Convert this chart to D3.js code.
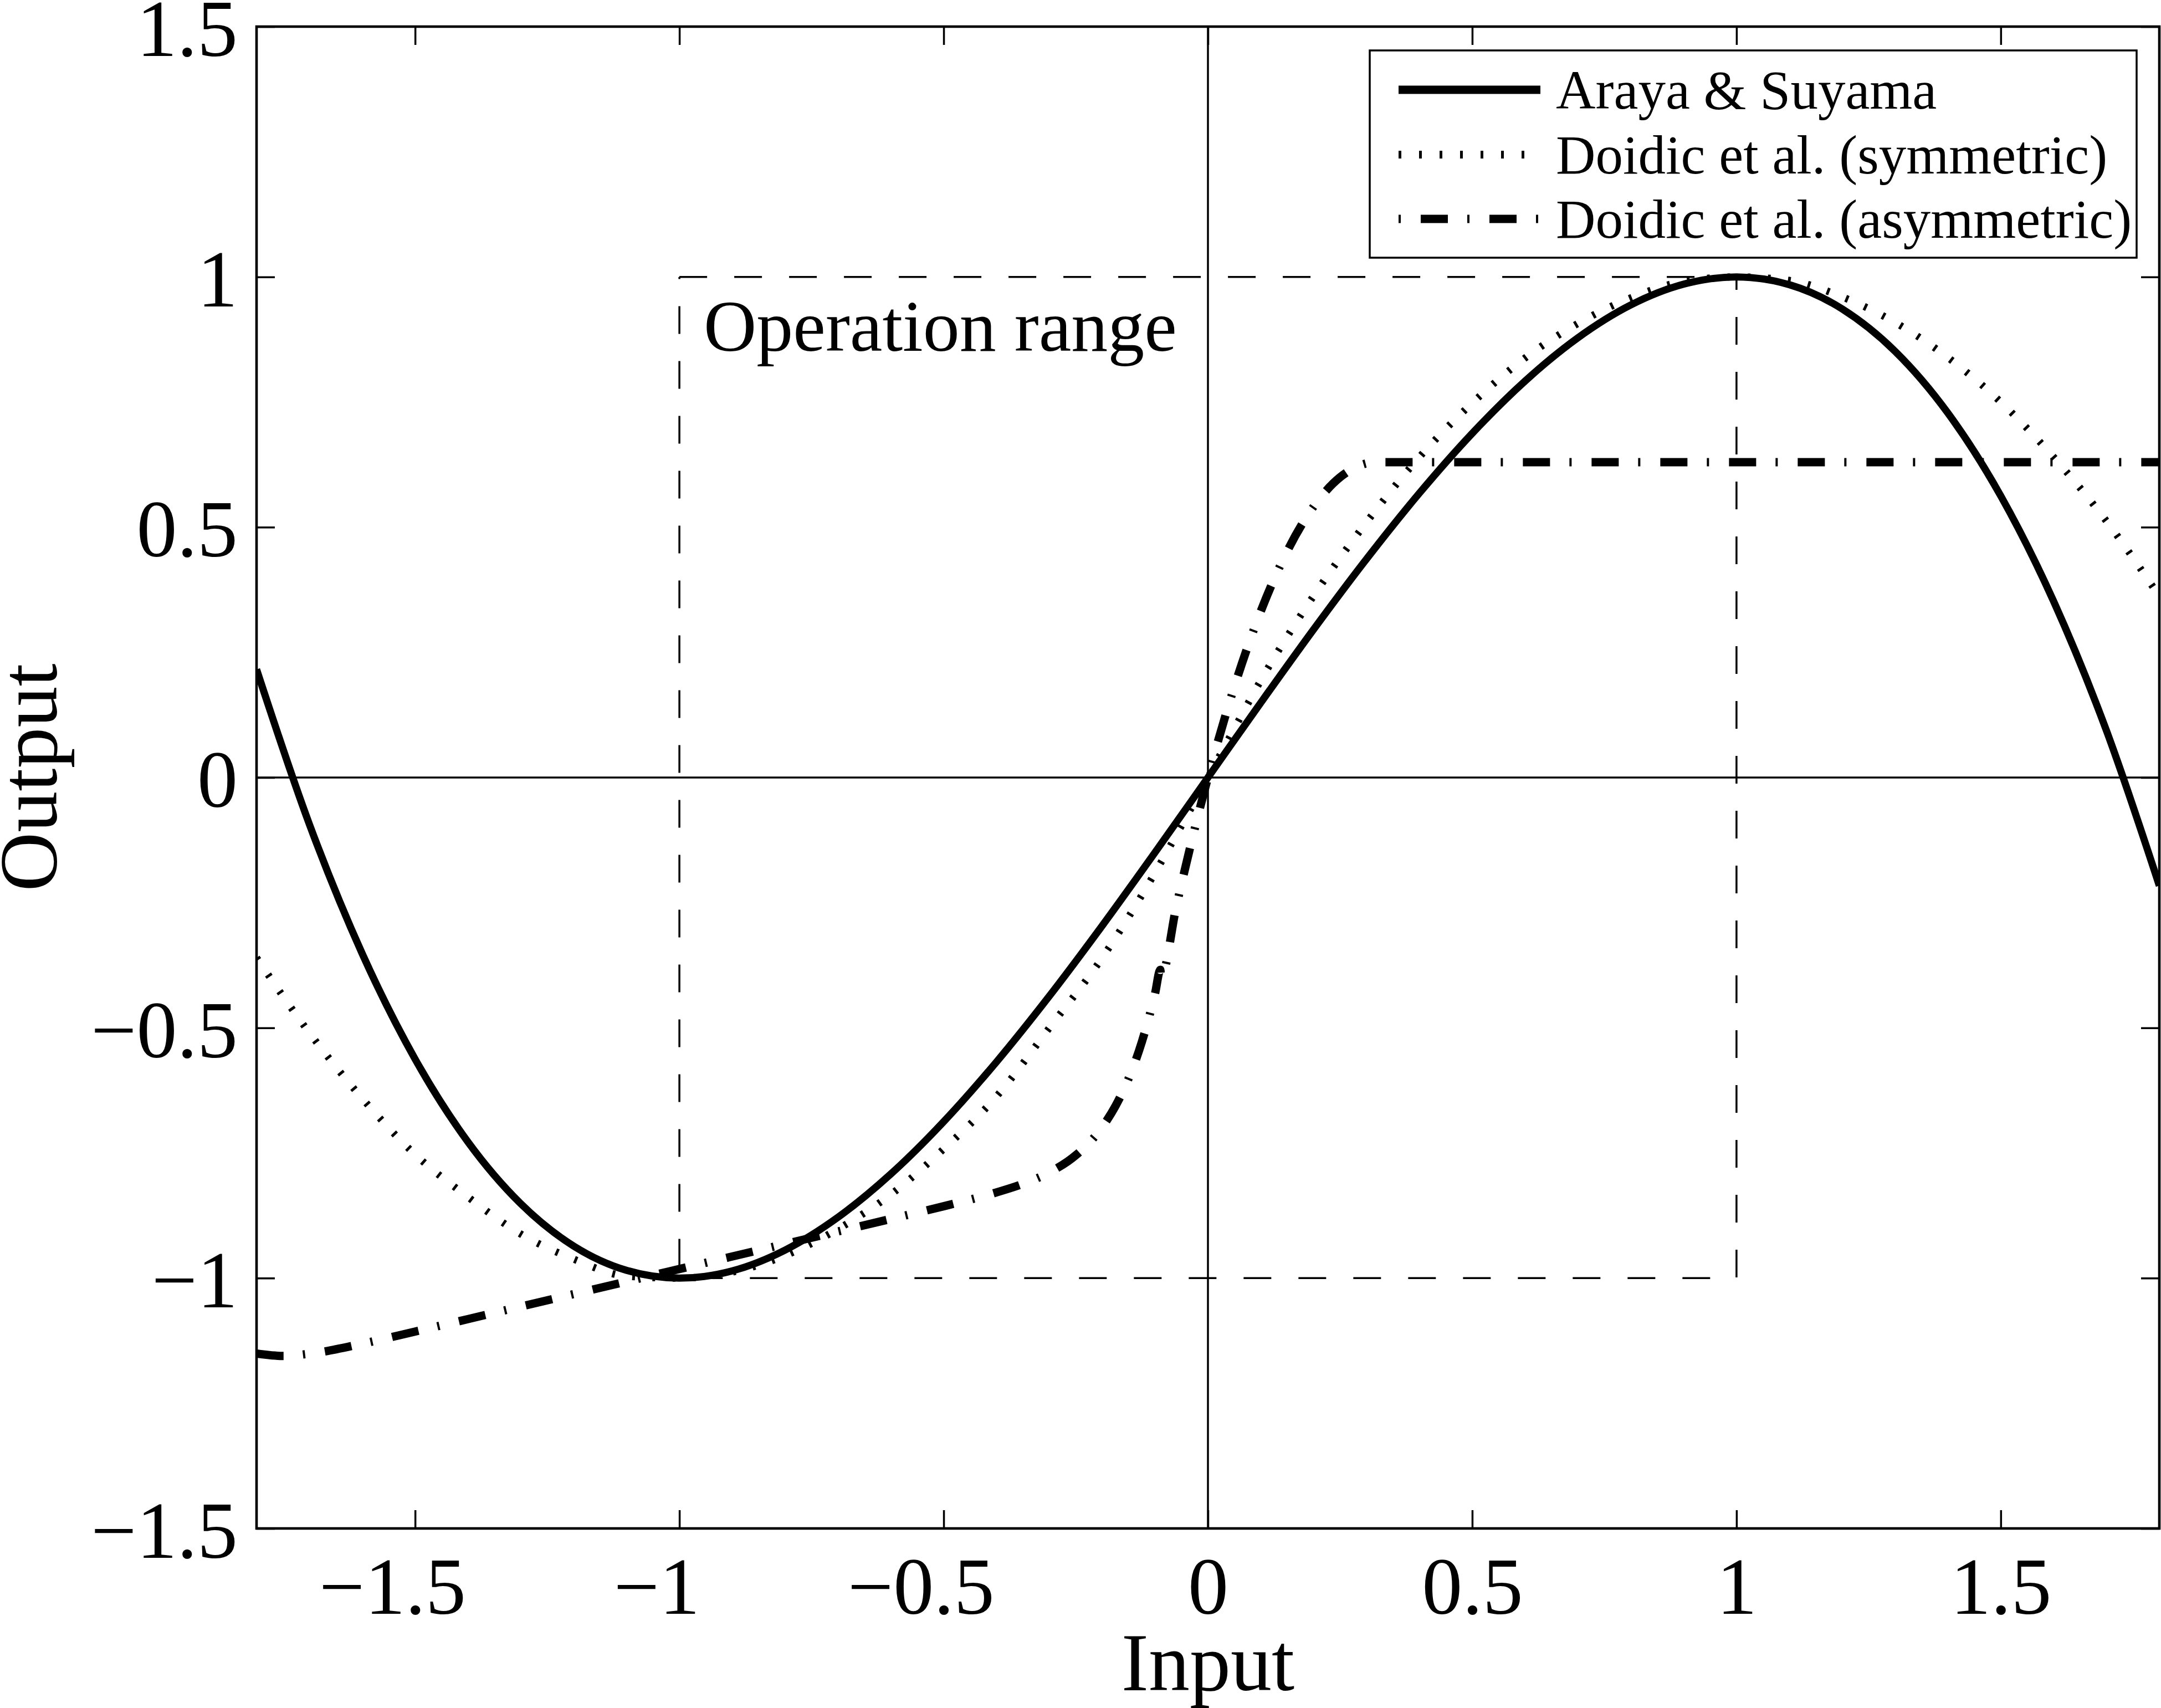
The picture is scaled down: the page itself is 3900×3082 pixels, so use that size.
<!DOCTYPE html>
<html>
<head>
<meta charset="utf-8">
<script src="https://cdn.jsdelivr.net/npm/d3@7"></script>
<style>
  html, body { margin: 0; padding: 0; background: #fff; }
  svg { display: block; }
  text { font-family: "Liberation Serif", "Times New Roman", Times, serif; fill: #000; }
</style>
</head>
<body>
<svg id="chart" width="3900" height="3082"></svg>
<script>
// ---------- data ----------
const xTicks = [-1.5, -1, -0.5, 0, 0.5, 1, 1.5];
const yTicks = [-1.5, -1, -0.5, 0, 0.5, 1, 1.5];
const xDomain = [-1.8, 1.8];
const yDomain = [-1.5, 1.5];

const arayaX = [-1.8, -1.7, -1.6, -1.5, -1.4, -1.3, -1.2, -1.1, -1.0, -0.9, -0.8, -0.7, -0.6, -0.5, -0.4, -0.3, -0.2, -0.1, 0,
                0.1, 0.2, 0.3, 0.4, 0.5, 0.6, 0.7, 0.8, 0.9, 1.0, 1.1, 1.2, 1.3, 1.4, 1.5, 1.6, 1.7, 1.8];
const arayaY = [0.216, -0.0935, -0.352, -0.5625, -0.728, -0.8515, -0.936, -0.9845, -1.0, -0.9855, -0.944, -0.8785, -0.792, -0.6875, -0.568, -0.4365, -0.296, -0.1495, 0,
                0.1495, 0.296, 0.4365, 0.568, 0.6875, 0.792, 0.8785, 0.944, 0.9855, 1.0, 0.9845, 0.936, 0.8515, 0.728, 0.5625, 0.352, 0.0935, -0.216];

const symX = [-1.8, -1.7, -1.6, -1.5, -1.4, -1.3, -1.2, -1.1, -1.0, -0.9, -0.8, -0.7, -0.6, -0.5, -0.4, -0.3, -0.2, -0.1, -0.05, 0,
              0.05, 0.1, 0.2, 0.3, 0.4, 0.5, 0.6, 0.7, 0.8, 0.9, 1.0, 1.1, 1.2, 1.3, 1.4, 1.5, 1.6, 1.7, 1.8];
const symY = [-0.360, -0.510, -0.641, -0.753, -0.838, -0.912, -0.962, -0.996, -1.0, -0.988, -0.955, -0.902, -0.833, -0.742, -0.637, -0.500, -0.360, -0.190, -0.096, 0,
              0.098, 0.194, 0.363, 0.510, 0.640, 0.748, 0.838, 0.907, 0.958, 0.991, 1.0, 0.993, 0.960, 0.909, 0.839, 0.750, 0.640, 0.512, 0.362];

const asymX = [-1.8, -1.75, -1.7, -1.6, -1.5, -1.4, -1.3, -1.2, -1.1, -1.0, -0.9, -0.8, -0.7, -0.6, -0.5, -0.45, -0.4, -0.35, -0.3, -0.25,
               -0.2, -0.175, -0.15, -0.125, -0.1, -0.09, -0.089, -0.06, -0.03, 0, 0.05, 0.1, 0.15, 0.2, 0.25, 0.3, 0.32, 1.8];
const asymY = [-1.1506, -1.1554, -1.1510, -1.1310, -1.1067, -1.0818, -1.0568, -1.0318, -1.0068, -0.9818, -0.9568, -0.9318, -0.9068, -0.8818, -0.8564, -0.8431, -0.8287, -0.8116, -0.7888, -0.7545,
               -0.6982, -0.6564, -0.6011, -0.5279, -0.4311, -0.3841, -0.3992, -0.2584, -0.1237, 0, 0.1815, 0.3322, 0.4522, 0.5414, 0.5998, 0.6275, 0.6300, 0.6300];

const rangeX = [-1, 1, 1, -1, -1];
const rangeY = [1, 1, -1, -1, 1];

const legendLabels = ["Araya & Suyama", "Doidic et al. (symmetric)", "Doidic et al. (asymmetric)"];
const xLabel = "Input";
const yLabel = "Output";
const annotation = "Operation range";

// ---------- layout ----------
const W = 3900, H = 3082;
const L = 463, R = 3897, T = 48, B = 2758;
const FONT = 146;

const svg = d3.select("#chart");
svg.append("rect").attr("width", W).attr("height", H).attr("fill", "#fff");

const x = d3.scaleLinear().domain(xDomain).range([L, R]);
const y = d3.scaleLinear().domain(yDomain).range([B, T]);

svg.append("defs").append("clipPath").attr("id", "plotclip")
  .append("rect").attr("x", L).attr("y", T).attr("width", R - L).attr("height", B - T);

const plot = svg.append("g").attr("clip-path", "url(#plotclip)");

// crosshair lines
plot.append("line").attr("x1", x(0)).attr("x2", x(0)).attr("y1", T).attr("y2", B)
  .attr("stroke", "#000").attr("stroke-width", 3.5);
plot.append("line").attr("x1", L).attr("x2", R).attr("y1", y(0)).attr("y2", y(0))
  .attr("stroke", "#000").attr("stroke-width", 3.5);

// operation range box
const lineGen = d3.line().x(d => x(d[0])).y(d => y(d[1]));
plot.append("path")
  .attr("d", lineGen(rangeX.map((v, i) => [v, rangeY[i]])))
  .attr("fill", "none").attr("stroke", "#000").attr("stroke-width", 3.5)
  .attr("stroke-dasharray", "50 49");

// curves
const curveGen = d3.line().x(d => x(d[0])).y(d => y(d[1])).curve(d3.curveMonotoneX);
const zip = (a, b) => a.map((v, i) => [v, b[i]]);

plot.append("path").attr("d", curveGen(zip(symX, symY)))
  .attr("fill", "none").attr("stroke", "#000").attr("stroke-width", 13)
  .attr("stroke-dasharray", "5 31.5");

plot.append("path").attr("d", curveGen(zip(asymX, asymY)))
  .attr("fill", "none").attr("stroke", "#000").attr("stroke-width", 15)
  .attr("stroke-dasharray", "49 35 4 36");

plot.append("path").attr("d", curveGen(zip(arayaX, arayaY)))
  .attr("fill", "none").attr("stroke", "#000").attr("stroke-width", 13)
  .attr("stroke-linejoin", "round");

// annotation
svg.append("text").attr("x", x(-0.954)).attr("y", y(0.852))
  .attr("font-size", 132).text(annotation);

// ---------- axes ----------
const TICK = 33;
const styleAxis = g => {
  g.select(".domain").remove();
  g.selectAll(".tick line").attr("stroke", "#000").attr("stroke-width", 3.5);
};

const gx = svg.append("g").attr("transform", `translate(0,${B})`)
  .call(d3.axisBottom(x).tickValues(xTicks).tickSizeInner(-TICK).tickSizeOuter(0)
        .tickFormat(d => d < 0 ? "\u2212" + Math.abs(d) : String(d)));
styleAxis(gx);
gx.selectAll(".tick text")
  .attr("font-family", '"Liberation Serif", "Times New Roman", serif')
  .attr("font-size", FONT).attr("fill", "#000")
  .attr("y", 154).attr("dy", 0);
// negative labels: center the numeric part on the tick, minus hangs left
gx.selectAll(".tick text").each(function (d) {
  if (d < 0) {
    const t = d3.select(this);
    const tmp = gx.append("text").attr("font-family", '"Liberation Serif", "Times New Roman", serif')
      .attr("font-size", FONT).text(String(Math.abs(d)));
    const w = tmp.node().getComputedTextLength();
    tmp.remove();
    t.attr("text-anchor", "end").attr("x", w / 2);
  }
});

const gxTop = svg.append("g").attr("transform", `translate(0,${T})`)
  .call(d3.axisTop(x).tickValues(xTicks).tickSizeInner(-TICK).tickSizeOuter(0).tickFormat(""));
styleAxis(gxTop);

const gy = svg.append("g").attr("transform", `translate(${L},0)`)
  .call(d3.axisLeft(y).tickValues(yTicks).tickSizeInner(-TICK).tickSizeOuter(0)
        .tickFormat(d => d < 0 ? "\u2212" + Math.abs(d) : String(d)));
styleAxis(gy);
gy.selectAll(".tick text")
  .attr("font-family", '"Liberation Serif", "Times New Roman", serif')
  .attr("font-size", FONT).attr("fill", "#000")
  .attr("x", -34).attr("dy", "0.36em").attr("text-anchor", "end");

const gyRight = svg.append("g").attr("transform", `translate(${R},0)`)
  .call(d3.axisRight(y).tickValues(yTicks).tickSizeInner(-TICK).tickSizeOuter(0).tickFormat(""));
styleAxis(gyRight);

// frame
svg.append("rect").attr("x", L).attr("y", T).attr("width", R - L).attr("height", B - T)
  .attr("fill", "none").attr("stroke", "#000").attr("stroke-width", 4.6);

// axis titles
svg.append("text").attr("x", (L + R) / 2).attr("y", 3050)
  .attr("text-anchor", "middle").attr("font-size", 148).text(xLabel);
svg.append("text").attr("transform", `translate(102,${y(0)}) rotate(-90)`)
  .attr("text-anchor", "middle").attr("font-size", 148).text(yLabel);

// ---------- legend ----------
const lg = svg.append("g");
lg.append("rect").attr("x", 2472).attr("y", 91).attr("width", 3856 - 2472).attr("height", 465 - 91)
  .attr("fill", "#fff").attr("stroke", "#000").attr("stroke-width", 3.5);
const legendStyles = [
  { w: 15, dash: null },
  { w: 14, dash: "5 32" },
  { w: 15, dash: "4 36 49 35" }
];
const rowY = [162, 279, 395];
legendLabels.forEach((lab, i) => {
  const ln = lg.append("line").attr("x1", 2524).attr("x2", 2780).attr("y1", rowY[i]).attr("y2", rowY[i])
    .attr("stroke", "#000").attr("stroke-width", legendStyles[i].w);
  if (legendStyles[i].dash) ln.attr("stroke-dasharray", legendStyles[i].dash);
  lg.append("text").attr("x", 2808).attr("y", rowY[i] + 34).attr("font-size", 99).text(lab);
});
</script>
</body>
</html>
